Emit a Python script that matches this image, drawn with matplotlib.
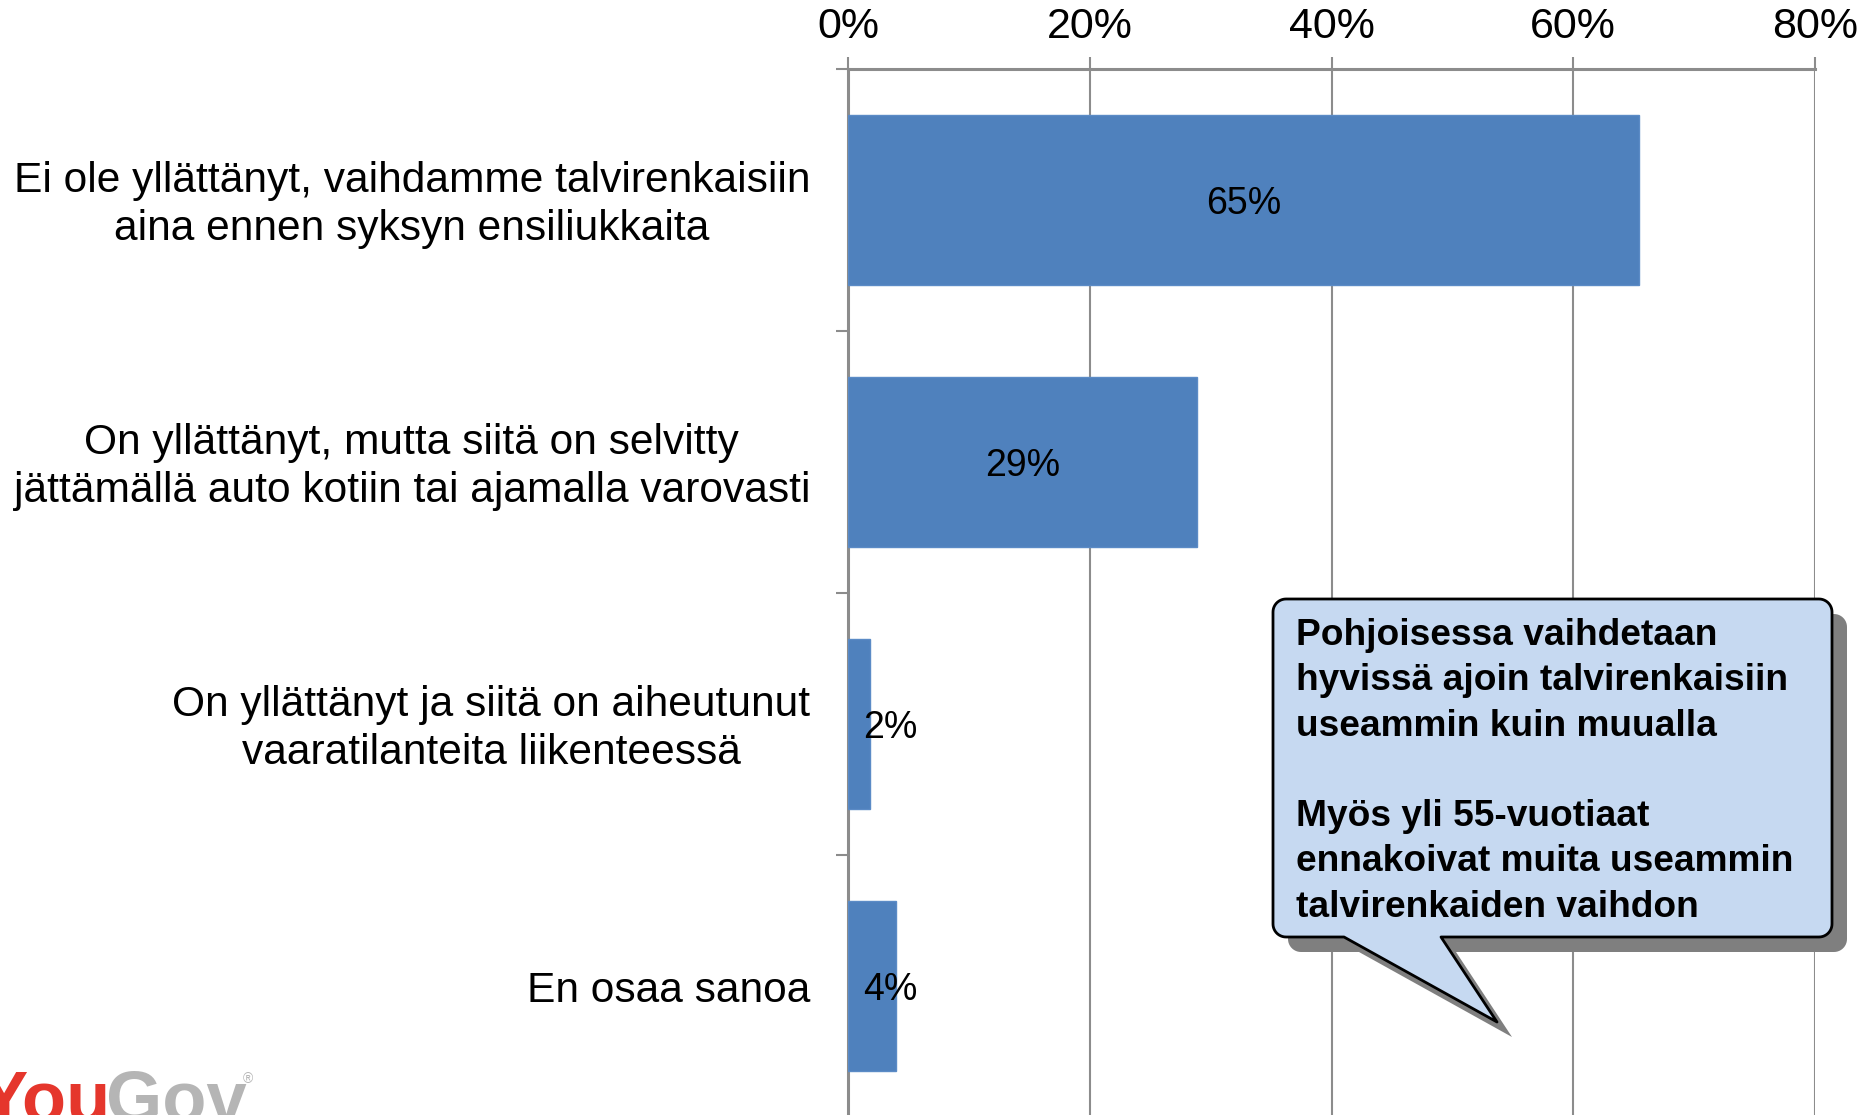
import matplotlib
matplotlib.use('Agg')
import matplotlib.pyplot as plt
import numpy as np
from matplotlib.patches import Polygon
from matplotlib import transforms

categories = ["Ei ole yllättänyt, vaihdamme talvirenkaisiin\naina ennen syksyn ensiliukkaita",
              "On yllättänyt, mutta siitä on selvitty\njättämällä auto kotiin tai ajamalla varovasti",
              "On yllättänyt ja siitä on aiheutunut\nvaaratilanteita liikenteessä",
              "En osaa sanoa"]
values = [65.4, 28.9, 1.8, 4.0]
value_labels = ["65%", "29%", "2%", "4%"]
xticks = [0, 20, 40, 60, 80]
xtick_labels = ["0%", "20%", "40%", "60%", "80%"]
callout_text = ("Pohjoisessa vaihdetaan\nhyvissä ajoin talvirenkaisiin\nuseammin kuin muualla\n\n"
                "Myös yli 55-vuotiaat\nennakoivat muita useammin\ntalvirenkaiden vaihdon")

plt.rcParams['font.family'] = ['Liberation Sans', 'DejaVu Sans']

W, H = 1860, 1115
fig = plt.figure(figsize=(W / 100, H / 100), dpi=100)


def fx(px):
    return px / W


def fy(py):
    return 1 - py / H


GRID = '#8C8C8C'
ax = fig.add_axes([fx(848), fy(1117), fx(1815) - fx(848), fy(69) - fy(1117)])
ypos = np.arange(len(categories))
ax.barh(ypos, values, height=0.65, color='#4F81BD', edgecolor='#5B8BC6', linewidth=1, zorder=3)
ax.set_xlim(0, 80)
ax.set_ylim(len(categories) - 0.5, -0.5)
ax.set_axisbelow(True)
ax.xaxis.grid(True, color=GRID, linewidth=1.5)
for s in ['right', 'bottom']:
    ax.spines[s].set_visible(False)
ax.spines['top'].set_color(GRID)
ax.spines['top'].set_linewidth(2.2)
ax.spines['left'].set_color(GRID)
ax.spines['left'].set_linewidth(2.2)

ax.xaxis.tick_top()
ax.set_xticks(xticks)
ax.set_xticklabels(xtick_labels)
ax.tick_params(axis='x', direction='out', length=9, width=1.5, color=GRID, pad=7,
               labelsize=31)
ax.set_yticks(np.arange(len(categories) + 1) - 0.5)
ax.set_yticklabels([])
ax.tick_params(axis='y', direction='out', length=9, width=1.5, color=GRID)

# category labels
trans = transforms.blended_transform_factory(fig.transFigure, ax.transData)
trans = transforms.offset_copy(trans, fig=fig, y=-5, units='dots')
for i, c in enumerate(categories):
    ax.text(fx(810), i, c, transform=trans, ha='right', va='center', multialignment='center',
            fontsize=30.6, linespacing=1.28, color='black')

# value labels
for i, (v, l) in enumerate(zip(values, value_labels)):
    ax.text(max(v / 2, 3.5), i, l, ha='center', va='center_baseline', fontsize=27,
            color='black', zorder=4)

# callout shape
L, T, R, B = 1273, 599, 1832, 937
rad = 13
tail_l, tail_r, tip = 1344, 1441, (1497, 1022)


def arc(cx, cy, a0, a1):
    t = np.radians(np.linspace(a0, a1, 12))
    return [(cx + rad * np.cos(t_), cy + rad * np.sin(t_)) for t_ in t]


pts = []
pts += arc(L + rad, T + rad, 180, 270)
pts += arc(R - rad, T + rad, 270, 360)
pts += arc(R - rad, B - rad, 0, 90)
pts += [(tail_r, B), tip, (tail_l, B)]
pts += arc(L + rad, B - rad, 90, 180)

off = 15
shadow = [(fx(x + off), fy(y + off)) for x, y in pts]
main = [(fx(x), fy(y)) for x, y in pts]
fig.add_artist(Polygon(shadow, closed=True, transform=fig.transFigure, facecolor='#7F7F7F',
                       edgecolor='none', zorder=10))
fig.add_artist(Polygon(main, closed=True, transform=fig.transFigure, facecolor='#C6D9F1',
                       edgecolor='black', linewidth=2, zorder=11, joinstyle='round'))
fig.text(fx(1296), fy(618), callout_text, ha='left', va='top', fontsize=26.7, weight='bold',
         linespacing=1.38, color='black', zorder=12)

# logo
t1 = fig.text(fx(-20), fy(1122), "You", color='#E5362C', fontsize=52, weight='bold',
              va='baseline', ha='left')
fig.canvas.draw()
bb = t1.get_window_extent()
t2 = fig.text(bb.x1 / W - 0.003, fy(1122), "Gov", color='#B5B5B5', fontsize=52, weight='bold',
              va='baseline', ha='left')
fig.canvas.draw()
bb2 = t2.get_window_extent()
fig.text(bb2.x1 / W - 0.002, fy(1072), "®", color='#B5B5B5', fontsize=10, va='top', ha='left')

fig.savefig('out.png', dpi=100)
